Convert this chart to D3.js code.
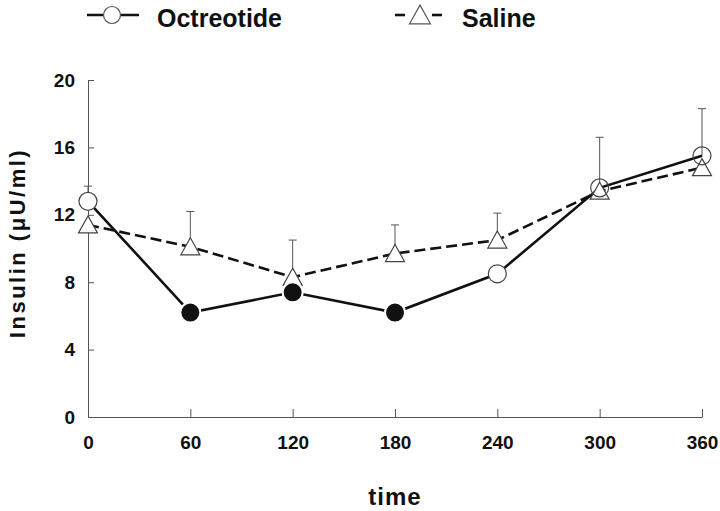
<!DOCTYPE html>
<html>
<head>
<meta charset="utf-8">
<script src="https://cdn.jsdelivr.net/npm/d3@7"></script>
<style>
  body { margin: 0; background: #fff; }
  svg { display: block; font-family: "Liberation Sans", Arial, sans-serif; }
</style>
</head>
<body>
<script>
        var w = 720;
        var h = 511;

        // time points (minutes)
        var times = [0, 60, 120, 180, 240, 300, 360];
        var yTicks = [0, 4, 8, 12, 16, 20];

        // insulin values
        var octreotide = [12.8, 6.2, 7.4, 6.2, 8.5, 13.6, 15.5];
        var octreotideErr = [0.9, null, null, null, null, 3.0, 2.8];
        var octreotideFilled = [false, true, true, true, false, false, false];

        var saline = [11.4, 10.1, 8.3, 9.7, 10.5, 13.4, 14.8];
        var salineErr = [null, 2.1, 2.2, 1.7, 1.6, null, null];

        var seriesNames = ["Octreotide", "Saline"];

        var xScale = d3.scaleLinear()
            .domain([0, 360])
            .range([88, 702]);

        var yScale = d3.scaleLinear()
            .domain([0, 20])
            .range([417, 80]);

        var svg = d3.select("body")
            .append("svg")
            .attr("width", w)
            .attr("height", h);

        var xAxis = d3.axisBottom(xScale)
            .tickValues(times)
            .tickSizeInner(-8)
            .tickSizeOuter(0)
            .tickPadding(19);

        var yAxis = d3.axisLeft(yScale)
            .tickValues(yTicks)
            .tickSizeInner(-6)
            .tickSizeOuter(0)
            .tickPadding(13);

        var gx = svg.append("g")
            .attr("transform", "translate(0," + yScale(0) + ")")
            .call(xAxis);

        var gy = svg.append("g")
            .attr("transform", "translate(" + xScale(0) + ",0)")
            .call(yAxis);

        [gx, gy].forEach(function(g) {
            g.selectAll("path, line").attr("stroke", "#555").attr("stroke-width", 1);
            g.selectAll("text")
                .attr("fill", "#111")
                .style("font-size", "19px")
                .style("font-weight", "bold")
                .style("font-family", "'Liberation Sans', Arial, sans-serif");
        });

        var triangle = function(x, y, s) {
            s = s || 1;
            return "M" + x + "," + (y - 9 * s) + "L" + (x + 9.5 * s) + "," + (y + 8 * s) + "L" + (x - 9.5 * s) + "," + (y + 8 * s) + "Z";
        };

        var line = d3.line()
            .x(function(d, i) { return xScale(times[i]); })
            .y(function(d) { return yScale(d); });

        // error bars (upper only)
        function errorBars(values, errs) {
            var pts = values.map(function(v, i) {
                return { t: times[i], v: v, e: errs[i] };
            }).filter(function(d) { return d.e != null; });

            svg.append("g").selectAll("line.err")
                .data(pts)
                .enter()
                .append("line")
                .attr("x1", function(d) { return xScale(d.t); })
                .attr("x2", function(d) { return xScale(d.t); })
                .attr("y1", function(d) { return yScale(d.v); })
                .attr("y2", function(d) { return yScale(d.v + d.e); })
                .attr("stroke", "#555")
                .attr("stroke-width", 1);

            svg.append("g").selectAll("line.cap")
                .data(pts)
                .enter()
                .append("line")
                .attr("x1", function(d) { return xScale(d.t) - 4; })
                .attr("x2", function(d) { return xScale(d.t) + 4; })
                .attr("y1", function(d) { return yScale(d.v + d.e); })
                .attr("y2", function(d) { return yScale(d.v + d.e); })
                .attr("stroke", "#555")
                .attr("stroke-width", 1);
        }

        errorBars(saline, salineErr);
        errorBars(octreotide, octreotideErr);

        // saline dashed line
        svg.append("path")
            .attr("d", line(saline))
            .attr("fill", "none")
            .attr("stroke", "#111")
            .attr("stroke-width", 2.6)
            .attr("stroke-dasharray", "11,5");

        // octreotide solid line
        svg.append("path")
            .attr("d", line(octreotide))
            .attr("fill", "none")
            .attr("stroke", "#111")
            .attr("stroke-width", 2.6);

        // saline triangles
        svg.selectAll("path.tri")
            .data(saline)
            .enter()
            .append("path")
            .attr("class", "tri")
            .attr("d", function(d, i) { return triangle(xScale(times[i]), yScale(d)); })
            .attr("fill", "#fff")
            .attr("stroke", "#444")
            .attr("stroke-width", 1.2);

        // octreotide circles
        svg.selectAll("circle.oct")
            .data(octreotide)
            .enter()
            .append("circle")
            .attr("class", "oct")
            .attr("cx", function(d, i) { return xScale(times[i]); })
            .attr("cy", function(d) { return yScale(d); })
            .attr("r", function(d, i) { return octreotideFilled[i] ? 10 : 9; })
            .attr("fill", function(d, i) { return octreotideFilled[i] ? "#111" : "none"; })
            .attr("stroke", function(d, i) { return octreotideFilled[i] ? "#fff" : "#444"; })
            .attr("stroke-width", function(d, i) { return octreotideFilled[i] ? 2 : 1.2; });

        // open circles get a white fill except where a triangle sits under them
        svg.selectAll("circle.oct")
            .filter(function(d, i) { return !octreotideFilled[i] && times[i] !== 300 && times[i] !== 360; })
            .attr("fill", "#fff");

        // legend
        var legendX = [87, 395];
        var legend = svg.selectAll("g.legend")
            .data(seriesNames)
            .enter()
            .append("g")
            .attr("class", "legend")
            .attr("transform", function(d, i) { return "translate(" + legendX[i] + ",15)"; });

        legend.filter(function(d, i) { return i === 0; })
            .append("line")
            .attr("x1", 0).attr("x2", 52).attr("y1", 0).attr("y2", 0)
            .attr("stroke", "#111").attr("stroke-width", 2.6);

        legend.filter(function(d, i) { return i === 1; })
            .selectAll("line")
            .data([[0, 10], [37, 47]])
            .enter()
            .append("line")
            .attr("x1", function(d) { return d[0]; })
            .attr("x2", function(d) { return d[1]; })
            .attr("y1", 0).attr("y2", 0)
            .attr("stroke", "#111").attr("stroke-width", 2.6);

        legend.filter(function(d, i) { return i === 0; })
            .append("circle")
            .attr("cx", 25).attr("cy", 0).attr("r", 8.5)
            .attr("fill", "#fff").attr("stroke", "#555").attr("stroke-width", 1.2);

        legend.filter(function(d, i) { return i === 1; })
            .append("path")
            .attr("d", triangle(25, 0, 1.1))
            .attr("fill", "#fff").attr("stroke", "#555").attr("stroke-width", 1.2);

        legend.append("text")
            .attr("x", function(d, i) { return i === 0 ? 70 : 67; })
            .attr("y", 12)
            .text(function(d) { return d; })
            .attr("fill", "#111")
            .style("font-size", "25px")
            .style("font-weight", "bold");

        // X axis label
        svg.append("text")
            .attr("text-anchor", "middle")
            .attr("x", (xScale(0) + xScale(360)) / 2)
            .attr("y", 505)
            .text("time")
            .attr("fill", "#111")
            .style("font-size", "24px")
            .style("font-weight", "bold")
            .style("letter-spacing", "1px");

        // Y axis label
        svg.append("text")
            .attr("text-anchor", "middle")
            .attr("transform", "rotate(-90)")
            .attr("y", 25)
            .attr("x", -243)
            .text("Insulin (μU/ml)")
            .attr("fill", "#111")
            .style("font-size", "22px")
            .style("font-weight", "bold")
            .style("letter-spacing", "2.5px");
</script>
</body>
</html>
